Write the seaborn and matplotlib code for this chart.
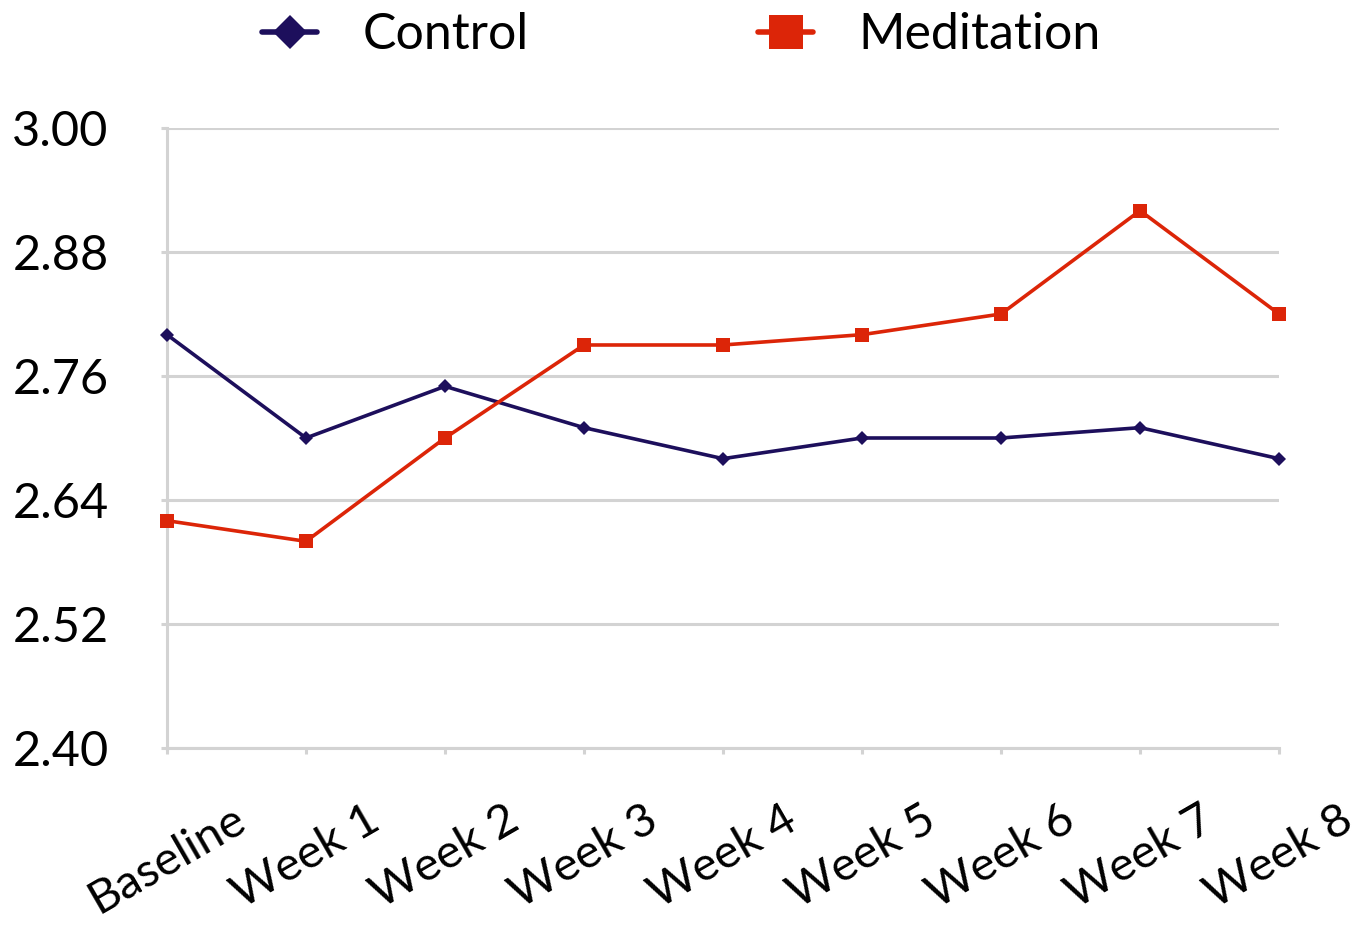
import matplotlib
matplotlib.use("Agg")
import matplotlib.pyplot as plt
from matplotlib.lines import Line2D
import seaborn as sns
import pandas as pd

# Weekly mean scores for both groups
weeks = ["Baseline", "Week 1", "Week 2", "Week 3", "Week 4",
         "Week 5", "Week 6", "Week 7", "Week 8"]
control = [2.80, 2.70, 2.75, 2.71, 2.68, 2.70, 2.70, 2.71, 2.68]
meditation = [2.62, 2.60, 2.70, 2.79, 2.79, 2.80, 2.82, 2.92, 2.82]
y_ticks = [2.40, 2.52, 2.64, 2.76, 2.88, 3.00]

control_color = "#1d0f5c"
meditation_color = "#dc2508"
grid_color = "#d3d3d3"

sns.set_theme(style="white")
plt.rcParams["font.family"] = ["Lato", "DejaVu Sans"]
plt.rcParams["text.color"] = "black"

df = pd.DataFrame({
    "week": weeks * 2,
    "score": control + meditation,
    "group": ["Control"] * len(weeks) + ["Meditation"] * len(weeks),
})

fig = plt.figure(figsize=(13.63, 9.26), dpi=100)
ax = fig.add_axes([0.1225, 0.1922, 0.9384 - 0.1225, 0.8618 - 0.1922])

sns.lineplot(data=df[df.group == "Control"], x="week", y="score",
             color=control_color, marker="D", markersize=7,
             markeredgewidth=0, linewidth=2.6, ax=ax, sort=False,
             clip_on=False, zorder=4)
sns.lineplot(data=df[df.group == "Meditation"], x="week", y="score",
             color=meditation_color, marker="s", markersize=10.5,
             markeredgewidth=0, linewidth=2.6, ax=ax, sort=False,
             clip_on=False, zorder=5)

ax.set_xlim(0, len(weeks) - 1)
ax.set_ylim(2.40, 3.00)
ax.set_yticks(y_ticks)
ax.set_yticklabels([f"{v:.2f}" for v in y_ticks])
ax.set_xticks(range(len(weeks)))
ax.set_xticklabels(weeks, rotation=30, ha="center")
ax.set_xlabel("")
ax.set_ylabel("")

# Horizontal gridlines, light grey axis lines
ax.yaxis.grid(True, color=grid_color, linewidth=2.2)
ax.xaxis.grid(False)
for side in ["top", "right"]:
    ax.spines[side].set_visible(False)
for side in ["left", "bottom"]:
    ax.spines[side].set_color(grid_color)
    ax.spines[side].set_linewidth(2.2)
ax.set_axisbelow(True)

ax.tick_params(axis="y", which="major", length=4, width=2.2, color=grid_color,
               pad=38, labelsize=35, labelcolor="black", left=True)
ax.tick_params(axis="x", which="major", length=4, width=2.2, color=grid_color,
               pad=32, labelsize=34, labelcolor="black", bottom=True)

handles = [
    Line2D([0], [0], color=control_color, marker="D", markersize=17,
           markeredgewidth=0, linewidth=4),
    Line2D([0], [0], color=meditation_color, marker="s", markersize=25,
           markeredgewidth=0, linewidth=4),
]
fig.legend(handles, ["Control", "Meditation"], loc="center",
           bbox_to_anchor=(0.50, 0.962), ncol=2, frameon=False,
           fontsize=36, handlelength=1.1, handletextpad=0.9,
           columnspacing=4.6, labelcolor="black")

fig.savefig("out.png", dpi=100, facecolor="white")
